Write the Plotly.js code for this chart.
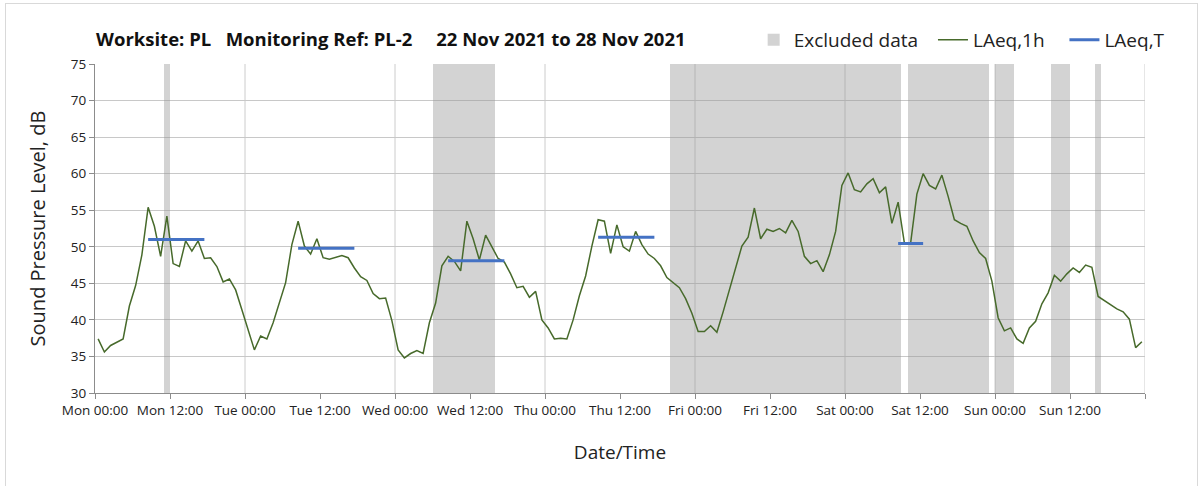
<!DOCTYPE html>
<html>
<head>
<meta charset="utf-8">
<script src="https://cdn.plot.ly/plotly-3.0.1.min.js"></script>
<style>
  html, body { margin: 0; padding: 0; background: #ffffff; }
  #wrap { position: relative; width: 1203px; height: 486px; overflow: hidden; }
  #chart { width: 1203px; height: 486px; }
  #frame { position: absolute; left: 5px; top: 3px; width: 1191px; height: 495px;
           border: 1px solid #d9d9d9; pointer-events: none; }
</style>
</head>
<body>
<div id="wrap">
  <div id="chart"></div>
  <div id="frame"></div>
</div>
<script>
// ---------- data ----------
// Hourly LAeq,1h values (dB) from Mon 22 Nov 2021 00:00, one per hour (plotted at mid-hour)
const laeq1h = [
  37.4, 35.6, 36.5, 36.9, 37.4, 41.9, 44.7, 48.9, 55.4, 52.8, 48.7, 54.2,
  47.7, 47.3, 50.8, 49.4, 50.8, 48.4, 48.5, 47.3, 45.2, 45.6, 44.1, 41.4,
  38.7, 35.9, 37.8, 37.4, 39.6, 42.3, 45.1, 50.3, 53.5, 50.1, 49.0, 51.1,
  48.5, 48.3, 48.6, 48.8, 48.5, 47.1, 45.9, 45.4, 43.6, 42.9, 43.0, 39.9,
  35.9, 34.8, 35.4, 35.8, 35.4, 39.6, 42.3, 47.4, 48.7, 48.0, 46.7, 53.5,
  51.1, 48.2, 51.6, 50.0, 48.4, 47.9, 46.3, 44.4, 44.6, 43.1, 43.9, 40.0,
  38.9, 37.4, 37.5, 37.4, 40.0, 43.3, 46.0, 50.1, 53.7, 53.5, 49.1, 53.0,
  50.0, 49.4, 52.1, 50.3, 49.0, 48.4, 47.4, 45.8, 45.1, 44.4, 42.9, 40.9,
  38.4, 38.4, 39.2, 38.3, 41.1, 44.0, 47.1, 50.1, 51.3, 55.3, 51.1, 52.4,
  52.1, 52.5, 51.9, 53.6, 52.1, 48.7, 47.7, 48.1, 46.6, 48.9, 52.1, 58.4,
  60.1, 57.8, 57.5, 58.6, 59.3, 57.4, 58.2, 53.2, 56.1, 50.5, 50.5, 57.2,
  60.0, 58.4, 57.9, 59.8, 56.9, 53.7, 53.2, 52.8, 50.8, 49.2, 48.4, 45.3,
  40.3, 38.5, 38.9, 37.4, 36.8, 38.9, 39.8, 42.2, 43.7, 46.1, 45.3, 46.3,
  47.1, 46.5, 47.5, 47.2, 43.2, 42.6, 42.0, 41.5, 41.1, 40.1, 36.2, 37.0
];
// LAeq,T periods (hours from Mon 00:00) and levels (dB)
const laeqTStart = [8.5, 32.5, 56.5, 80.5, 128.5];
const laeqTEnd   = [17.5, 41.5, 65.5, 89.5, 132.5];
const laeqTValue = [51.0, 49.8, 48.1, 51.3, 50.45];
// Excluded data periods (hours from Mon 00:00)
const excludedStart = [11, 54, 92, 130, 144, 153, 160];
const excludedEnd   = [12, 64, 129, 143, 147, 156, 161];
// Axis ticks
const tickHours  = [0, 12, 24, 36, 48, 60, 72, 84, 96, 108, 120, 132, 144, 156, 168];
const tickLabels = ['Mon 00:00','Mon 12:00','Tue 00:00','Tue 12:00','Wed 00:00','Wed 12:00',
                    'Thu 00:00','Thu 12:00','Fri 00:00','Fri 12:00','Sat 00:00','Sat 12:00',
                    'Sun 00:00','Sun 12:00',''];
const yRange = [30, 75];

// ---------- helpers ----------
const T0 = Date.UTC(2021, 10, 22, 0, 0, 0);
function hourToDate(h) {
  return new Date(T0 + h * 3600000).toISOString().slice(0, 19).replace('T', ' ');
}
const NB = '\u00a0';

// ---------- traces ----------
const excludedTrace = {
  type: 'bar',
  name: 'Excluded data' + NB.repeat(2),
  x: excludedStart.map((s, i) => hourToDate((s + excludedEnd[i]) / 2)),
  y: excludedStart.map(() => yRange[1] - yRange[0]),
  base: excludedStart.map(() => yRange[0]),
  width: excludedStart.map((s, i) => (excludedEnd[i] - s) * 3600000),
  marker: { color: 'rgba(150,150,150,0.42)', line: { width: 0 } },
  hoverinfo: 'skip'
};

const lineTrace = {
  type: 'scatter',
  mode: 'lines',
  name: 'LAeq,1h' + NB.repeat(3),
  x: laeq1h.map((v, i) => hourToDate(i + 0.5)),
  y: laeq1h,
  line: { color: '#476A2B', width: 1.5 }
};

const ltX = [], ltY = [];
laeqTStart.forEach((s, i) => {
  ltX.push(hourToDate(s), hourToDate(laeqTEnd[i]), null);
  ltY.push(laeqTValue[i], laeqTValue[i], null);
});
const ltTrace = {
  type: 'scatter',
  mode: 'lines',
  name: 'LAeq,T',
  x: ltX,
  y: ltY,
  connectgaps: false,
  line: { color: '#4472C4', width: 3 }
};

// day-boundary vertical gridlines
const shapes = [];
for (let d = 1; d <= 7; d++) {
  shapes.push({
    type: 'line', xref: 'x', yref: 'paper',
    x0: hourToDate(24 * d), x1: hourToDate(24 * d), y0: 0, y1: 1,
    line: { color: '#cccccc', width: 1 }, layer: 'below'
  });
}

const fontFam = '"Open Sans", "Noto Sans", sans-serif';
const layout = {
  width: 1203, height: 486,
  margin: { l: 95, r: 58, t: 64, b: 93 },
  paper_bgcolor: '#ffffff', plot_bgcolor: '#ffffff',
  font: { family: fontFam, color: '#222222' },
  title: {
    text: 'Worksite: PL' + NB.repeat(3) + 'Monitoring Ref: PL-2' + NB.repeat(5) + '22 Nov 2021 to 28 Nov 2021',
    font: { family: fontFam, size: 18.5, color: '#111111', weight: 'bold' },
    xref: 'paper', x: 0.001, xanchor: 'left',
    yref: 'container', y: 1 - 40 / 486, yanchor: 'middle'
  },
  showlegend: true,
  legend: {
    orientation: 'h', x: 1.0235, xanchor: 'right', y: 1 + 24 / 329, yanchor: 'middle',
    font: { family: fontFam, size: 19, color: '#222222' },
    bgcolor: 'rgba(0,0,0,0)', traceorder: 'normal', itemwidth: 30
  },
  bargap: 0,
  xaxis: {
    type: 'date',
    range: [hourToDate(0), hourToDate(168)],
    tickmode: 'array',
    tickvals: tickHours.map(hourToDate),
    ticktext: tickLabels,
    ticks: 'outside', ticklen: 5, tickcolor: '#8c8c8c',
    showgrid: false, zeroline: false,
    showline: true, linecolor: '#8c8c8c', linewidth: 1,
    tickfont: { family: fontFam, size: 13.5, color: '#222222' },
    title: { text: 'Date/Time', font: { family: fontFam, size: 19, color: '#222222' }, standoff: 27 },
    fixedrange: true
  },
  yaxis: {
    range: yRange,
    dtick: 5, tick0: 30,
    ticks: 'outside', ticklen: 5, tickcolor: '#8c8c8c',
    showgrid: true, gridcolor: '#c8c8c8', gridwidth: 1,
    zeroline: false,
    showline: true, linecolor: '#8c8c8c', linewidth: 1,
    tickfont: { family: fontFam, size: 13.5, color: '#222222' },
    title: { text: 'Sound Pressure Level, dB', font: { family: fontFam, size: 20, color: '#222222' }, standoff: 19 },
    fixedrange: true
  },
  shapes: shapes
};

Plotly.newPlot('chart', [excludedTrace, lineTrace, ltTrace], layout, { staticPlot: true, displayModeBar: false });
</script>
</body>
</html>
